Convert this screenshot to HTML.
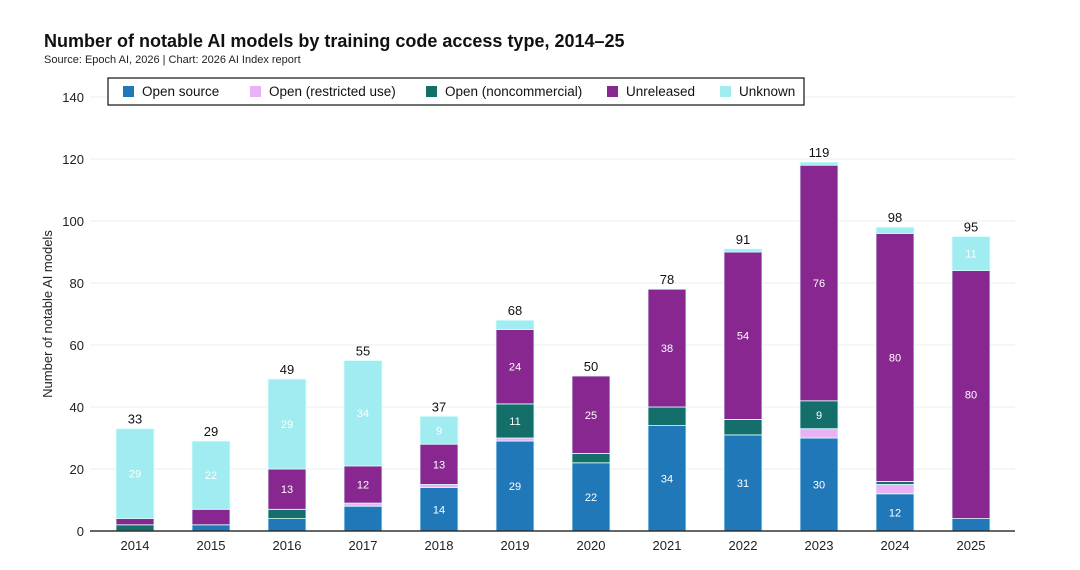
<!DOCTYPE html>
<html><head><meta charset="utf-8"><style>
body{margin:0;background:#fff;font-family:"Liberation Sans",sans-serif}
</style></head><body>
<svg id="chart" width="1080" height="565" xmlns="http://www.w3.org/2000/svg" font-family="Liberation Sans, sans-serif">
<text x="44" y="47" font-size="18" font-weight="bold" fill="#111">Number of notable AI models by training code access type, 2014–25</text>
<text x="44" y="63" font-size="11" fill="#222">Source: Epoch AI, 2026 | Chart: 2026 AI Index report</text>
<text transform="translate(52,314) rotate(-90)" text-anchor="middle" font-size="13" fill="#222">Number of notable AI models</text>
<g id="grid"></g><g id="bars"></g><g id="axes"></g>
<g>
<rect x="108" y="78" width="696" height="27" fill="#fff" stroke="#111" stroke-width="1.2"/>
<g id="legend"></g></g>
</svg>
<script>
const years=["2014","2015","2016","2017","2018","2019","2020","2021","2022","2023","2024","2025"];
const openSource=[0,2,4,8,14,29,22,34,31,30,12,4];
const openRestricted=[0,0,0,1,1,1,0,0,0,3,3,0];
const openNoncommercial=[2,0,3,0,0,11,3,6,5,9,1,0];
const unreleased=[2,5,13,12,13,24,25,38,54,76,80,80];
const unknown=[29,22,29,34,9,3,0,0,1,1,2,11];
const yTicks=[0,20,40,60,80,100,120,140];
const seriesNames=["Open source","Open (restricted use)","Open (noncommercial)","Unreleased","Unknown"];
const series=[openSource,openRestricted,openNoncommercial,unreleased,unknown];
const colors=["#2178b8","#eab2f5","#146e6a","#88278f","#a0ecf0"];
const NS="http://www.w3.org/2000/svg";
const y0=531,yTop=97,yMax=140,x0=90,x1=1015,band=76,bw=38,firstC=135;
const ys=v=>y0-(v/yMax)*(y0-yTop);
const xc=i=>firstC+band*i;
function mk(tag,attrs,parent){const e=document.createElementNS(NS,tag);for(const k in attrs)e.setAttribute(k,attrs[k]);parent.appendChild(e);return e;}
const grid=document.getElementById('grid'),axes=document.getElementById('axes'),bars=document.getElementById('bars');
yTicks.forEach(t=>{
 const l=mk('line',{x1:x0,x2:x1,y1:ys(t),y2:ys(t),stroke:'#eee'},grid);
 
 
 const tx=mk('text',{x:x0-6,y:ys(t)+5,'text-anchor':'end','font-size':13,fill:'#222'},axes);
 tx.textContent=t;
 
 
});
const ax=mk('line',{x1:x0,x2:x1,y1:y0,y2:y0,stroke:'#333','stroke-width':1.5},axes);


years.forEach((yr,i)=>{
 const tx=mk('text',{x:xc(i),y:y0+19,'text-anchor':'middle','font-size':13,fill:'#222'},axes);
 tx.textContent=yr;
 
 
 let cum=0;
 series.forEach((s,k)=>{
  const v=s[i];if(v<=0)return;
  const r=mk('rect',{x:xc(i)-bw/2,y:ys(cum+v),width:bw,height:ys(cum)-ys(cum+v),fill:colors[k],stroke:'#dff','stroke-width':0.8},bars);
  
  
  if(v>=9){const t=mk('text',{x:xc(i),y:(ys(cum)+ys(cum+v))/2+4,'text-anchor':'middle','font-size':11,fill:'#fff'},bars);
   t.textContent=v;
   
   }
  cum+=v;
 });
 const tt=mk('text',{x:xc(i),y:ys(cum)-5,'text-anchor':'middle','font-size':13,fill:'#111'},bars);
 tt.textContent=cum;
 
 
});
const lg=document.getElementById('legend');
const lx=[123,250,426,607,720];
seriesNames.forEach((n,k)=>{
 const r=mk('rect',{x:lx[k],y:86,width:11,height:11,fill:colors[k]},lg);
 
 
 const t=mk('text',{x:lx[k]+19,y:96,'font-size':13.5,fill:'#111'},lg);
 t.textContent=n;
 
 
});
</script>
</body></html>
